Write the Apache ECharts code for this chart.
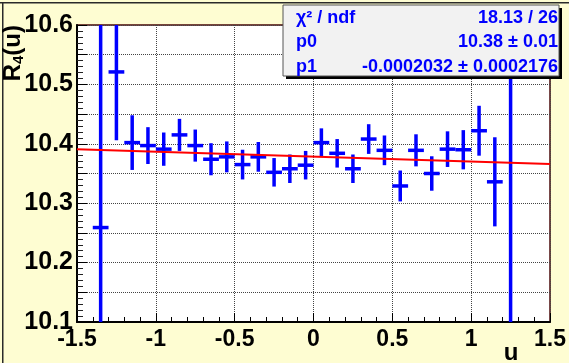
<!DOCTYPE html>
<html>
<head>
<meta charset="utf-8">
<script src="https://cdn.jsdelivr.net/npm/echarts@6/dist/echarts.min.js"></script>
<style>
html, body { margin: 0; padding: 0; background: #fefdd2; }
#main { width: 569px; height: 363px; }
</style>
</head>
<body>
<div id="main"></div>
<script>
// R4(u) per bin of u, with the straight line fit on top
var uCenters = [-1.35, -1.25, -1.15, -1.05, -0.95, -0.85, -0.75, -0.65, -0.55, -0.45,
	-0.35, -0.25, -0.15, -0.05, 0.05, 0.15, 0.25, 0.35, 0.45, 0.55,
	0.65, 0.75, 0.85, 0.95, 1.05, 1.15, 1.25];
var r4Values = [10.259, 10.521, 10.402, 10.397, 10.391, 10.415, 10.397, 10.374, 10.378, 10.365,
	10.378, 10.352, 10.358, 10.364, 10.402, 10.384, 10.358, 10.408, 10.389, 10.329,
	10.389, 10.350, 10.391, 10.390, 10.422, 10.336, 9.9];
var r4Errors = [0.45, 0.115, 0.046, 0.031, 0.028, 0.027, 0.027, 0.027, 0.026, 0.025,
	0.025, 0.024, 0.024, 0.024, 0.024, 0.024, 0.024, 0.025, 0.025, 0.026,
	0.027, 0.029, 0.030, 0.033, 0.042, 0.075, 0.9];
var binHalfWidth = 0.05;

var fitU = [-1.5, 1.5];
var fitR4 = [10.391, 10.366];

var statNames = ['χ² / ndf', 'p0', 'p1'];
var statValues = ['18.13 / 26', '10.38 ± 0.01', '-0.0002032 ± 0.0002176'];

var xTicks = [-1.5, -1, -0.5, 0, 0.5, 1, 1.5];

var myChart = echarts.init(document.getElementById('main'));

var points = [];
for (var i = 0; i < uCenters.length; i++) {
	points.push([uCenters[i], r4Values[i], r4Errors[i]]);
}
var fitLine = [];
for (var j = 0; j < fitU.length; j++) {
	fitLine.push([fitU[j], fitR4[j]]);
}

var blue = '#0000ff';
var labelFont = '"Liberation Sans", Arial, Helvetica, sans-serif';

var statTexts = [];
for (var k = 0; k < statNames.length; k++) {
	statTexts.push({
		type: 'text', z: 12, x: 296, y: 18 + k * 24.5,
		style: { text: statNames[k], fill: blue, font: 'bold 18px ' + labelFont, align: 'left', verticalAlign: 'middle' }
	});
	statTexts.push({
		type: 'text', z: 12, x: 558, y: 18 + k * 24.5,
		style: { text: statValues[k], fill: blue, font: 'bold 18px ' + labelFont, align: 'right', verticalAlign: 'middle' }
	});
}

var option = {
	backgroundColor: '#fefdd2',
	animation: false,
	grid: {
		left: 77, right: 11, top: 25, bottom: 41,
		show: true,
		backgroundColor: '#ffffff',
		borderColor: '#4a0808',
		borderWidth: 1.5
	},
	xAxis: {
		type: 'value',
		min: -1.5, max: 1.5, interval: 0.5,
		axisLine: { onZero: false, lineStyle: { color: '#000', width: 2 } },
		axisTick: { inside: true, length: 9, lineStyle: { color: '#000', width: 1 } },
		minorTick: { show: true, splitNumber: 5, length: 5, lineStyle: { color: '#000' } },
		splitLine: { show: true, lineStyle: { color: '#444', type: 'dotted', width: 1 } },
		axisLabel: {
			margin: 6,
			color: '#000',
			fontSize: 23,
			fontWeight: 'bold',
			fontFamily: labelFont,
			showMinLabel: true,
			showMaxLabel: true,
			formatter: function (v) {
				for (var t = 0; t < xTicks.length; t++) {
					if (Math.abs(xTicks[t] - v) < 1e-6) return String(xTicks[t]);
				}
				return '';
			}
		}
	},
	yAxis: {
		type: 'value',
		min: 10.1, max: 10.6, interval: 0.05,
		axisLine: { show: true, onZero: false, lineStyle: { color: '#000', width: 2 } },
		axisTick: { inside: true, length: 10, lineStyle: { color: '#000', width: 1 } },
		minorTick: { show: true, splitNumber: 5, length: 6, lineStyle: { color: '#222' } },
		splitLine: { show: true, lineStyle: { color: '#444', type: 'dotted', width: 1 } },
		axisLabel: {
			margin: 4,
			color: '#000',
			fontSize: 25,
			fontWeight: 'bold',
			fontFamily: labelFont,
			showMinLabel: true,
			showMaxLabel: true,
			formatter: function (v) {
				var n = Math.round(v * 100);
				return n % 10 === 0 ? (n / 100).toFixed(1) : '';
			}
		}
	},
	series: [{
		type: 'custom',
		clip: true,
		z: 3,
		data: points,
		renderItem: function (params, api) {
			var u = api.value(0), r = api.value(1), e = api.value(2);
			var top = api.coord([u, r + e]);
			var bot = api.coord([u, r - e]);
			var lft = api.coord([u - binHalfWidth, r]);
			var rgt = api.coord([u + binHalfWidth, r]);
			var st = { stroke: blue, lineWidth: 3.5 };
			return {
				type: 'group',
				children: [
					{ type: 'line', shape: { x1: top[0], y1: top[1], x2: bot[0], y2: bot[1] }, style: st },
					{ type: 'line', shape: { x1: lft[0], y1: lft[1], x2: rgt[0], y2: rgt[1] }, style: st }
				]
			};
		}
	}, {
		type: 'line',
		data: fitLine,
		z: 4,
		symbol: 'none',
		lineStyle: { color: '#ff0000', width: 2 }
	}],
	graphic: [
		// pad border
		{ type: 'rect', shape: { x: 0, y: 2, width: 569, height: 1.5 }, style: { fill: '#2a2a2a' } },
		{ type: 'rect', shape: { x: 2, y: 2, width: 1.5, height: 361 }, style: { fill: '#2a2a2a' } },
		// stats box with shadow
		{ type: 'rect', z: 10, shape: { x: 286, y: 8, width: 276, height: 71 }, style: { fill: '#000' } },
		{ type: 'rect', z: 11, shape: { x: 283, y: 5, width: 276, height: 71 }, style: { fill: '#f2f2f2', stroke: '#555', lineWidth: 1 } }
	].concat(statTexts).concat([
		// axis titles
		{
			type: 'text', z: 12, x: 26, y: 25, rotation: Math.PI / 2,
			style: {
				text: '{a|R}{s|4}{a|(u)}',
				align: 'right',
				verticalAlign: 'bottom',
				rich: {
					a: { fontSize: 24, fontWeight: 'bold', fontFamily: labelFont, fill: '#000', lineHeight: 26 },
					s: { fontSize: 15, fontWeight: 'bold', fontFamily: labelFont, fill: '#000', verticalAlign: 'bottom', lineHeight: 26, padding: [10, 0, 0, 0] }
				}
			}
		},
		{
			type: 'text', z: 12, x: 511, y: 341,
			style: { text: 'u', align: 'center', fill: '#000', font: 'bold 24px ' + labelFont }
		}
	])
};

myChart.setOption(option);
</script>
</body>
</html>
